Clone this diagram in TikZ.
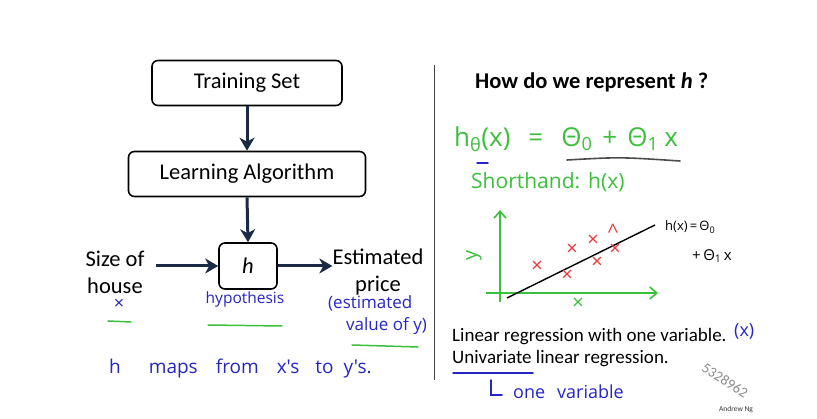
\documentclass[tikz,border=0pt]{standalone}
\usepackage{fontspec}
\setmainfont{Carlito}
\newfontfamily\hand{Open Sans}
\usetikzlibrary{arrows.meta}
\definecolor{navy}{HTML}{1B2A44}
\definecolor{hgreen}{HTML}{3CC03C}
\definecolor{hblue}{HTML}{2626C4}
\definecolor{hred}{HTML}{E83A3A}
\begin{document}
\begin{tikzpicture}[x=1pt,y=-1pt,
  box/.style={draw=black, line width=1.6pt, rounded corners=6pt, fill=white, inner sep=0pt, font=\fontsize{22.5}{24}\selectfont},
  arr/.style={draw=navy, line width=3pt, -{Stealth[length=13pt,width=15pt,inset=4pt]}},
  lbl/.style={font=\fontsize{22.5}{27}\selectfont, align=center, inner sep=0pt},
  slide/.style={font=\fontsize{19}{20}\selectfont, anchor=west, inner sep=0pt},
  hb/.style={text=hblue, font=\hand\fontsize{17}{22}\selectfont, inner sep=0pt, align=left},
  hg/.style={text=hgreen, inner sep=0pt, anchor=west},
  hk/.style={text=black, font=\hand\fontsize{13}{16}\selectfont, inner sep=0pt, anchor=west},
  uline/.style={line width=1.5pt, line cap=round},
  axis/.style={draw=hgreen, line width=1.6pt, -{Straight Barb[length=7pt,width=12pt]}},
  cross/.style={text=hred, font=\hand\fontsize{20}{20}\selectfont, inner sep=0pt}
]
\useasboundingbox[fill=white] (0,0) rectangle (817,419);

% ---- flow diagram ----
\node[box, minimum width=190pt, minimum height=45pt] (ts) at (247,83) {Training Set};
\node[box, minimum width=237pt, minimum height=45pt] (la) at (247,174) {Learning Algorithm};
\node[box, minimum width=58pt, minimum height=46pt] (hh) at (248,266) {\itshape h};
\draw[arr] (ts.south) -- (la.north);
\draw[arr] (la.south) -- (hh.north);

\node[lbl] (size) at (115,272) {Size of\\house};
\node[lbl] (est) at (378,272) {Estimated\\price};
\coordinate (sz0) at (156,266);
\draw[arr] (sz0) -- (hh.west);
\draw[arr] (hh.east) -- (est.west |- hh.east);

% separator
\coordinate (sepT) at (434,65);
\coordinate (sepB) at (434,380);
\draw[line width=1pt, draw=black!75] (sepT) -- (sepB);

% ---- handwriting left ----
\node[hb, font=\hand\fontsize{18}{16}\selectfont] (xl) at (119,304) {×};
\draw[uline, draw=hgreen] (108,321) -- (131,322);
\node[hb, font=\hand\fontsize{15.5}{16}\selectfont] (hyp) at (245,299) {hypothesis};
\draw[uline, draw=hgreen] (208,325) -- (282,326);
\node[hb, anchor=north west] (estv) at (328,295) {(estimated\\\hspace*{18pt}value of y)};
\draw[uline, draw=hgreen] (352,345) -- (418,347);
\node[hb, font=\hand\fontsize{19}{16}\selectfont, anchor=west] (maps) at (109,369) {h\hspace{28pt}maps\hspace{18pt}from\hspace{18pt}x's\hspace{16pt}to\hspace{10pt}y's.};

% ---- right side ----
\node[font=\bfseries\fontsize{22.5}{24}\selectfont, anchor=west, inner sep=0pt] (q) at (475,82) {How do we represent \textit{h} ?};
\node[hg, font=\hand\fontsize{26}{28}\selectfont] (eq) at (454,139) {h\textsubscript{θ}(x)\hspace{18pt}=\hspace{18pt}Θ\textsubscript{0}\hspace{10pt}+\hspace{10pt}Θ\textsubscript{1}\hspace{6pt}x};
\draw[line width=1.6pt, draw=black!70, line cap=round] (567,160) .. controls (620,157) .. (680,161);
\draw[uline, draw=hblue] (477,163) -- (488,163);
\node[hg, font=\hand\fontsize{21}{24}\selectfont] (sh) at (471,182) {Shorthand:\hspace{8pt}h(x)};

% plot
\coordinate (yb) at (500,302);
\coordinate (yt) at (500,210);
\coordinate (xb) at (486,293);
\coordinate (xt) at (658,293);
\draw[axis] (yb) -- (yt);
\draw[axis] (xb) -- (xt);
\node[text=hgreen, font=\hand\fontsize{20}{16}\selectfont, inner sep=0pt, rotate=90] (ylab) at (474,255) {y};
\node[text=hgreen, font=\hand\fontsize{20}{16}\selectfont, inner sep=0pt] (xlab) at (578,304) {×};
\coordinate (l0) at (507,298);
\coordinate (l1) at (655,225);
\draw[line width=1.4pt, black] (l0) -- (l1);
\foreach \p/\q in {537/267, 572/250, 593/241, 615/250, 597/263, 567/276}
  \node[cross] at (\p,\q) {×};
\node[cross] at (613,231) {\^{}};
\node[hk] (hx1) at (665,227) {h(x)\,=\,Θ\textsubscript{0}};
\node[hk, font=\hand\fontsize{15}{16}\selectfont] (hx2) at (692,256) {+\,Θ\textsubscript{1}\,x};

% bottom text
\node[slide] (lr1) at (452,337) {Linear regression with one variable.};
\node[hb, font=\hand\fontsize{18}{16}\selectfont, anchor=west] (xp) at (734,332) {(x)};
\node[slide] (lr2) at (452,359) {Univariate linear regression.};
\draw[uline, draw=hblue] (453,373) -- (533,373);
\coordinate (L0) at (491,380);
\coordinate (L1) at (491,395);
\coordinate (L2) at (502,395);
\draw[uline, draw=hblue] (L0) -- (L1) -- (L2);
\node[hb, font=\hand\fontsize{18}{16}\selectfont, anchor=west] (ov) at (513,392) {one\hspace{12pt}variable};

% watermark & credit
\node[text=black!45, font=\fontsize{14.5}{16}\selectfont, rotate=-33, inner sep=0pt] (wm) at (725,380) {5328962};
\node[text=black!80, font=\fontsize{7.5}{9}\selectfont, inner sep=0pt] (an) at (736,410) {Andrew Ng};
\end{tikzpicture}
\end{document}
